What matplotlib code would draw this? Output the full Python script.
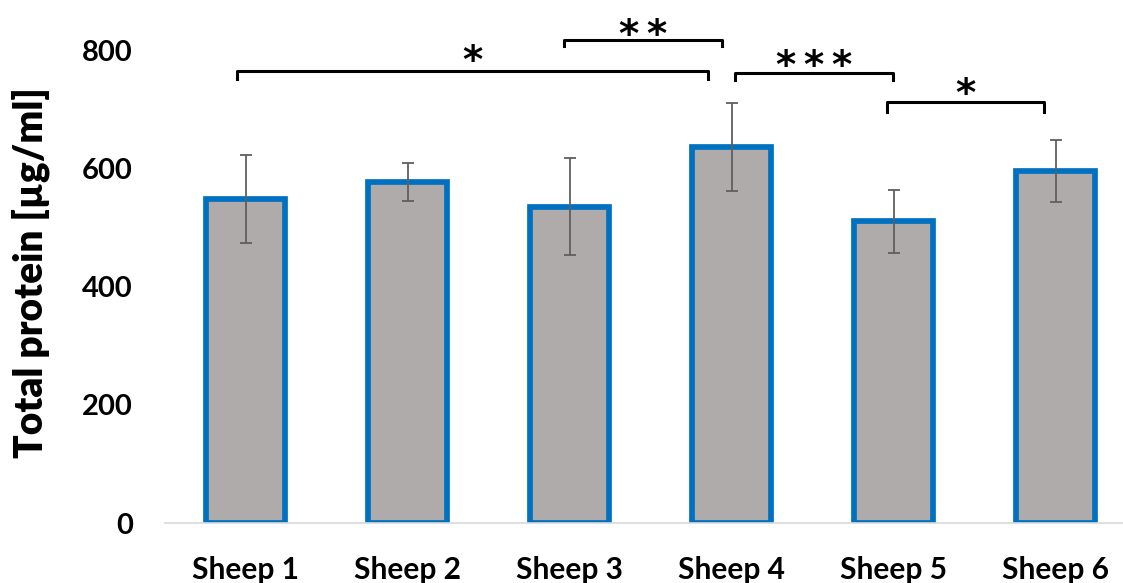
import matplotlib
matplotlib.use("Agg")
import matplotlib.pyplot as plt

# Total protein per animal (mean and error)
categories = ["Sheep 1", "Sheep 2", "Sheep 3", "Sheep 4", "Sheep 5", "Sheep 6"]
protein = [548, 577, 535, 636, 510, 595]
protein_err = [75, 32, 82, 75, 54, 52]
y_ticks = [0, 200, 400, 600, 800]

# Pairwise significance: (first bar, second bar, label)
comparisons = [(0, 3, "*"), (2, 3, "**"), (3, 4, "***"), (4, 5, "*")]

FONT = ["Lato", "DejaVu Sans"]
plt.rcParams["font.family"] = FONT
plt.rcParams["font.weight"] = "bold"

fig = plt.figure(figsize=(11.23, 5.83), dpi=100)
ax = fig.add_axes([0.1467, 0.1029, 0.8655, 0.8113])

x = list(range(len(categories)))
ax.bar(x, protein, width=0.49, color="#AFABAB", edgecolor="#0070C0",
       linewidth=4.1, zorder=2)
ax.errorbar(x, protein, yerr=protein_err, fmt="none", ecolor="#5F5F5F",
            elinewidth=1.3, capsize=4.3, capthick=1.3, zorder=3)

ax.set_xlim(-0.5, len(categories) - 0.5)
ax.set_ylim(0, 800)
ax.set_yticks(y_ticks)
ax.set_yticklabels([str(v) for v in y_ticks], fontsize=21, fontweight="bold")
ax.set_xticks(x)
ax.set_xticklabels(categories, fontsize=21.5, fontweight="bold")
ax.tick_params(axis="y", length=0, pad=23)
ax.tick_params(axis="x", length=0, pad=24)

for side in ("top", "right", "left"):
    ax.spines[side].set_visible(False)
ax.spines["bottom"].set_color("#D9D9D9")
ax.spines["bottom"].set_linewidth(1.2)

ax.set_ylabel("Total protein [µg/ml]", fontsize=28, fontweight="heavy")
ax.yaxis.set_label_coords(-0.118, 0.53)

# Bracket geometry for each comparison: x offsets from the bar centres,
# bar height, leg depth and label height (data units)
bracket_geom = [
    (-0.054, -0.145, 765, 14, 787),
    (-0.035, -0.062, 817, 11, 831),
    (0.020, -0.006, 761, 11, 778),
    (-0.040, -0.070, 712, 16, 731),
]
for (i, j, label), (dl, dr, yb, leg, yt) in zip(comparisons, bracket_geom):
    xl, xr = i + dl, j + dr
    ax.plot([xl, xl, xr, xr], [yb - leg, yb, yb, yb - leg], color="black",
            linewidth=2.2, solid_joinstyle="round", clip_on=False, zorder=4)
    ax.text((xl + xr) / 2, yt, "\u2009".join(label),
            ha="center", va="center_baseline", fontsize=28, fontweight="bold",
            family="DejaVu Sans", clip_on=False)

fig.savefig("out.png", dpi=100)
